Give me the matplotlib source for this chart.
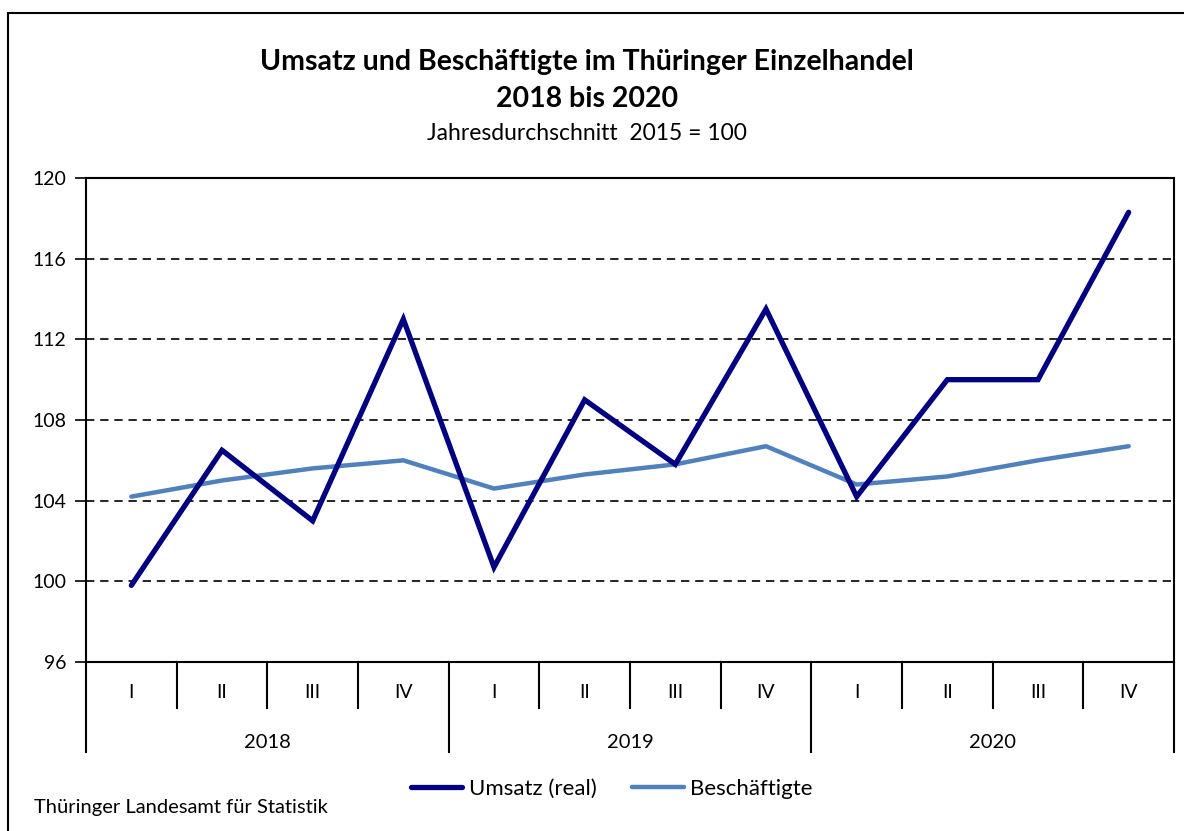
import matplotlib

matplotlib.use("Agg")

import matplotlib.pyplot as plt
from matplotlib.patches import Rectangle
import matplotlib.transforms as mtransforms

plt.rcParams["font.family"] = ["Lato", "DejaVu Sans"]

years = ["2018", "2019", "2020"]
quarters = ["I", "II", "III", "IV"]
umsatz = [99.8, 106.5, 103.0, 113.0, 100.7, 109.0, 105.8, 113.5, 104.2, 110.0, 110.0, 118.3]
beschaeftigte = [104.2, 105.0, 105.6, 106.0, 104.6, 105.3, 105.8, 106.7, 104.8, 105.2, 106.0, 106.7]
y_ticks = [96, 100, 104, 108, 112, 116, 120]

W, H = 1184, 831
fig = plt.figure(figsize=(W / 100, H / 100), dpi=100)
ax = fig.add_axes([86 / W, 1 - 662 / H, 1088 / W, 484 / H])

n = len(umsatz)
xs = [i + 0.5 for i in range(n)]

for t in y_ticks[1:-1]:
    ax.axhline(t, color="black", lw=1.2, dashes=(5, 3.5), zorder=1)

ax.plot(xs, beschaeftigte, color="#4F81BD", lw=3.2, solid_capstyle="round",
        solid_joinstyle="miter", zorder=3, label="Beschäftigte")
ax.plot(xs, umsatz, color="#000080", lw=3.8, solid_capstyle="round",
        solid_joinstyle="miter", zorder=4, label="Umsatz (real)")

ax.set_xlim(0, n)
ax.set_ylim(96, 120)
ax.set_yticks(y_ticks)
ax.set_yticklabels([str(t) for t in y_ticks], fontsize=14)
ax.tick_params(axis="y", direction="out", length=8, width=1.2, pad=6)
ax.set_xticks([])
for side in ax.spines.values():
    side.set_linewidth(1.5)

# category table below the axis
trans = mtransforms.blended_transform_factory(ax.transData, ax.transAxes)
q_depth = -46 / 484
y_depth = -90 / 484
for i in range(n + 1):
    if i % 4 == 0:
        ax.plot([i, i], [0, y_depth], color="black", lw=1.5, transform=trans, clip_on=False)
    else:
        ax.plot([i, i], [0, q_depth], color="black", lw=1.5, transform=trans, clip_on=False)
for i in range(n):
    ax.text(i + 0.5, -30 / 484, quarters[i % 4], transform=trans, ha="center",
            va="center", fontsize=14)
for j, yr in enumerate(years):
    ax.text(j * 4 + 2, -80 / 484, yr, transform=trans, ha="center", va="center",
            fontsize=14.5)

fig.text(587 / W, 1 - 62 / H, "Umsatz und Beschäftigte im Thüringer Einzelhandel",
         ha="center", va="center", fontsize=20.5, fontweight="bold")
fig.text(587 / W, 1 - 99 / H, "2018 bis 2020", ha="center", va="center",
         fontsize=20.5, fontweight="bold")
fig.text(587 / W, 1 - 133 / H, "Jahresdurchschnitt  2015 = 100", ha="center",
         va="center", fontsize=16.5)
fig.text(34 / W, 1 - 807 / H, "Thüringer Landesamt für Statistik", ha="left",
         va="center", fontsize=14.5)

handles, labels = ax.get_legend_handles_labels()
fig.legend(handles[::-1], labels[::-1], loc="center", bbox_to_anchor=(612 / W, 1 - 789 / H),
           ncol=2, frameon=False, fontsize=16, handlelength=2.3, handletextpad=0.3,
           columnspacing=1.6)

fig.patches.append(Rectangle((8 / W, -0.01), 1.2, 1 - 13 / H + 0.01, transform=fig.transFigure,
                             fill=False, edgecolor="black", lw=1.5))

fig.savefig("out.png", dpi=100)
